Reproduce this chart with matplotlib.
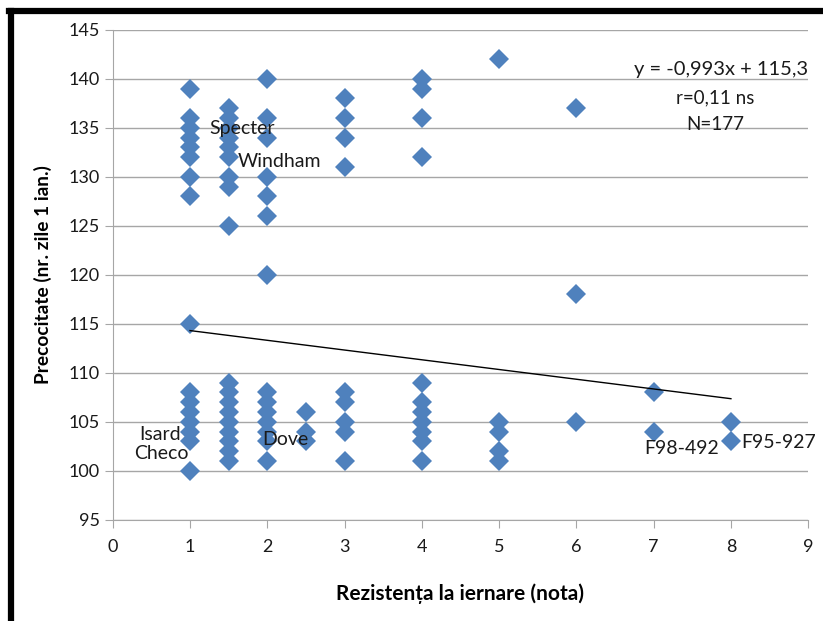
import matplotlib
matplotlib.use("Agg")
import numpy as np
from matplotlib import pyplot as plt
from matplotlib.lines import Line2D

# Nota de rezistenta la iernare (x) si precocitate (y) - puncte unice
nota = [1] * 16 + [1.5] * 18 + [2] * 14 + [2.5] * 3 + [3] * 9 + [4] * 11 + [5] * 5 + [6] * 3 + [7] * 2 + [8] * 2
precocitate = (
    [139, 136, 135, 134, 133, 132, 130, 128, 115, 108, 107, 106, 105, 104, 103, 100]
    + [137, 136, 135, 134, 133, 132, 130, 129, 125, 109, 108, 107, 106, 105, 104, 103, 102, 101]
    + [140, 136, 134, 130, 128, 126, 120, 108, 107, 106, 105, 104, 103, 101]
    + [106, 104, 103]
    + [138, 136, 134, 131, 108, 107, 105, 104, 101]
    + [140, 139, 136, 132, 109, 107, 106, 105, 104, 103, 101]
    + [142, 105, 104, 102, 101]
    + [137, 118, 105]
    + [108, 104]
    + [105, 103]
)

# Linia de tendinta: y = -0,993x + 115,3
panta, interceptie = -0.993, 115.3
x_tend = np.array([1, 8])

# Etichete soiuri (text, x, y)
etichete = [("Specter", 1.67, 134.9), ("Windham", 2.16, 131.6), ("Isard", 0.61, 103.7),
            ("Checo", 0.63, 101.8), ("Dove", 2.23, 103.2), ("F98-492", 7.36, 102.3),
            ("F95-927", 8.62, 102.9)]

plt.rcParams['font.family'] = ['Lato', 'DejaVu Sans']

fig = plt.figure(figsize=(8.23, 6.21), dpi=100)
ax = fig.add_axes([0.137, 0.163, 0.845, 0.789])

ax.plot(nota, precocitate, linestyle='none', marker='D', markersize=10.5,
        color='#4F81BD', markeredgewidth=0, zorder=3)
ax.plot(x_tend, panta * x_tend + interceptie, color='black', linewidth=1, zorder=4)

for txt, xx, yy in etichete:
    ax.text(xx, yy, txt, ha='center', va='center', fontsize=14, color='#1a1a1a', zorder=5)

ax.text(9.0, 140.9, "y = -0,993x + 115,3", ha='right', va='center', fontsize=14.5, color='#1a1a1a')
ax.text(7.8, 138.1, "r=0,11 ns", ha='center', va='center', fontsize=13.5, color='#1a1a1a')
ax.text(7.8, 135.3, "N=177", ha='center', va='center', fontsize=13.5, color='#1a1a1a')

ax.set_xlim(0, 9)
ax.set_ylim(95, 145)
ax.set_xticks(range(0, 10))
ax.set_yticks(range(95, 146, 5))
ax.yaxis.grid(True, color='#a6a6a6', linewidth=1)
ax.set_axisbelow(True)
for s in ['top', 'right']:
    ax.spines[s].set_visible(False)
for s in ['left', 'bottom']:
    ax.spines[s].set_color('#a6a6a6')
ax.tick_params(axis='both', colors='#a6a6a6', labelcolor='#1a1a1a', labelsize=13, length=6, direction='out')
ax.tick_params(axis='x', pad=8)

ax.set_xlabel("Rezistența la iernare (nota)", fontsize=15, fontweight='bold', labelpad=20)
ax.set_ylabel("Precocitate (nr. zile 1 ian.)", fontsize=13.8, fontweight='bold', labelpad=12)

# chenar negru (stanga si sus)
fig.add_artist(Line2D([11 / 823, 11 / 823], [0, 1 - 11 / 621], color='black', linewidth=4.5))
fig.add_artist(Line2D([9 / 823, 1], [1 - 11 / 621, 1 - 11 / 621], color='black', linewidth=4.5))

fig.savefig("out.png", dpi=100)
